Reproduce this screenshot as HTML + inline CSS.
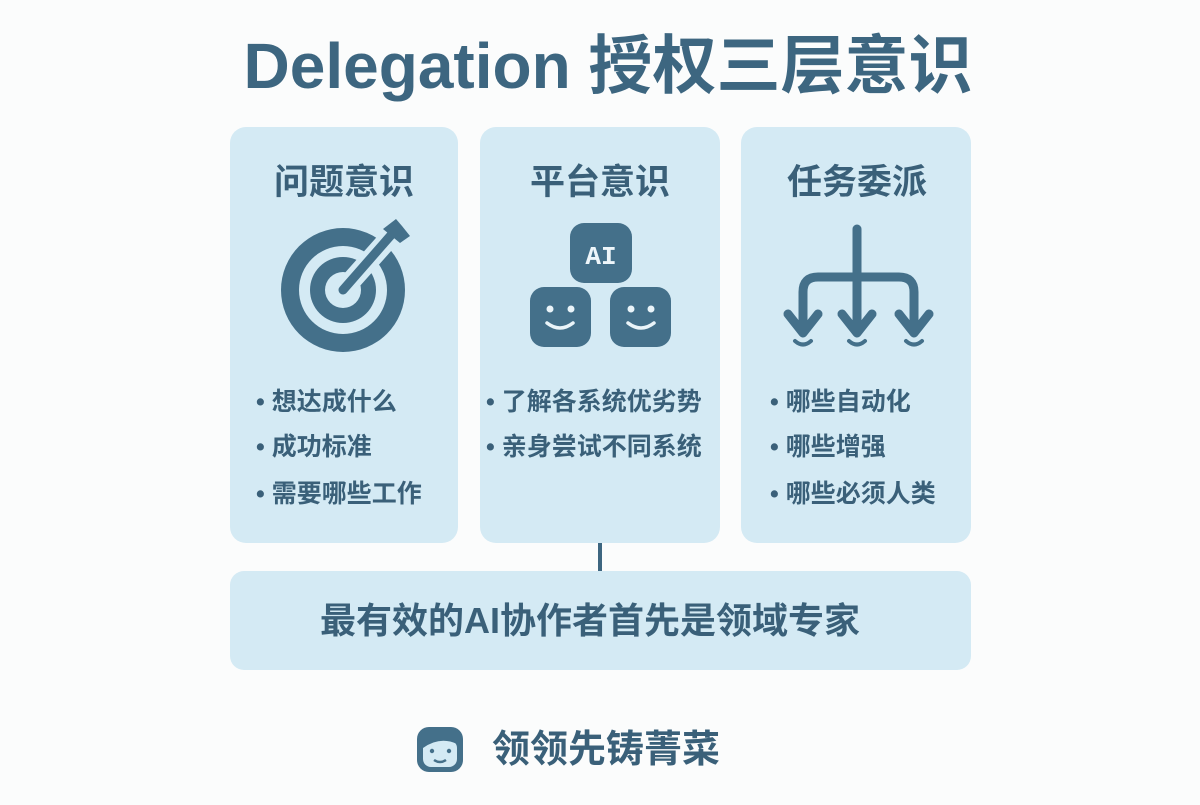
<!DOCTYPE html>
<html><head><meta charset="utf-8"><style>
html,body{margin:0;padding:0;background:#fbfcfc;}
svg text{font-family:"Liberation Sans","Noto Sans CJK SC",sans-serif;}
</style></head><body>
<svg width="1200" height="800" viewBox="0 0 1200 800" xmlns="http://www.w3.org/2000/svg">
<rect width="1200" height="800" fill="#fbfcfc"/>
<text x="608" y="88" font-size="64" text-anchor="middle" style="fill:#3d6680;font-weight:bold">Delegation 授权三层意识</text>
<rect x="230" y="127" width="228" height="416" rx="16" fill="#d4eaf4"/>
<rect x="480" y="127" width="240" height="416" rx="16" fill="#d4eaf4"/>
<rect x="741" y="127" width="230" height="416" rx="16" fill="#d4eaf4"/>
<line x1="600" y1="543" x2="600" y2="572" stroke="#3d6680" stroke-width="4"/>
<rect x="230" y="571" width="741" height="99" rx="14" fill="#d4eaf4"/>
<g font-size="35" text-anchor="middle" style="fill:#3a6079;font-weight:bold">
<text x="344" y="194">问题意识</text>
<text x="600" y="194">平台意识</text>
<text x="857" y="194">任务委派</text>
</g>
<!-- target -->
<circle cx="343" cy="290" r="62" fill="#44708a"/>
<circle cx="343" cy="290" r="44" fill="#d4eaf4"/>
<circle cx="343" cy="290" r="33" fill="#44708a"/>
<circle cx="343" cy="290" r="18" fill="#d4eaf4"/>
<circle cx="343" cy="290" r="5" fill="#44708a"/>
<line x1="343" y1="290" x2="400" y2="226" stroke="#d4eaf4" stroke-width="20" stroke-linecap="round"/>
<line x1="343" y1="290" x2="392" y2="234" stroke="#44708a" stroke-width="9" stroke-linecap="round"/>
<polygon points="383,229 396,219 402,226 410,236 400,243" fill="#44708a"/>
<!-- AI faces -->
<g fill="#44708a">
<rect x="570" y="223" width="62" height="60" rx="14"/>
<rect x="530" y="287" width="61" height="60" rx="14"/>
<rect x="610" y="287" width="61" height="60" rx="14"/>
</g>
<text x="601" y="264" font-size="26" text-anchor="middle" style="fill:#eef6fa;font-family:'Liberation Mono',monospace;font-weight:bold">AI</text>
<g fill="#eaf4f9"><circle cx="550" cy="309" r="3.5"/><circle cx="571" cy="309" r="3.5"/><circle cx="631" cy="309" r="3.5"/><circle cx="651" cy="309" r="3.5"/></g>
<g fill="none" stroke="#eaf4f9" stroke-width="3.5" stroke-linecap="round"><path d="M547 323 Q560 333 573 323"/><path d="M628 323 Q641 333 654 323"/></g>
<!-- delegation -->
<g fill="none" stroke="#44708a" stroke-width="9" stroke-linecap="round" stroke-linejoin="round">
<line x1="857" y1="229" x2="857" y2="332"/>
<path d="M 803 325 L 803 292 Q 803 277 818 277 L 899 277 Q 914 277 914 292 L 914 325"/>
<path d="M 788 314 L 803 333 L 818 314"/><path d="M 842 314 L 857 333 L 872 314"/><path d="M 899 314 L 914 333 L 929 314"/>
<path d="M 795 341 Q 803 348 811 341" stroke-width="4"/><path d="M 849 341 Q 857 348 865 341" stroke-width="4"/><path d="M 906 341 Q 914 348 922 341" stroke-width="4"/>
</g>
<g font-size="25" style="fill:#3a6079;font-weight:bold">
<text x="256" y="410">• 想达成什么</text>
<text x="256" y="455">• 成功标准</text>
<text x="256" y="502">• 需要哪些工作</text>
<text x="486" y="410">• 了解各系统优劣势</text>
<text x="486" y="455">• 亲身尝试不同系统</text>
<text x="770" y="410">• 哪些自动化</text>
<text x="770" y="455">• 哪些增强</text>
<text x="770" y="502">• 哪些必须人类</text>
</g>
<text x="590" y="633" font-size="36" text-anchor="middle" style="fill:#3a6079;font-weight:bold">最有效的AI协作者首先是领域专家</text>
<!-- footer icon -->
<rect x="417" y="727" width="46" height="45" rx="12" fill="#44708a"/>
<rect x="423" y="740" width="34" height="27" rx="8" fill="#d4eaf4"/>
<path d="M423 748 Q440 736 457 744 L457 740 L423 740 Z" fill="#44708a"/>
<circle cx="432" cy="751" r="2.2" fill="#44708a"/><circle cx="449" cy="751" r="2.2" fill="#44708a"/>
<path d="M434 760 Q440 764 446 760" stroke="#44708a" stroke-width="2.5" fill="none"/>
<text x="492" y="762" font-size="38" style="fill:#3a6079;font-weight:bold">领领先铸菁菜</text>
</svg>
</body></html>
